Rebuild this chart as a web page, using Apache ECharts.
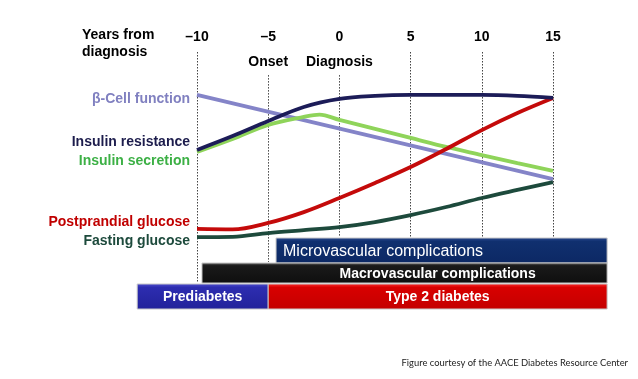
<!DOCTYPE html>
<html><head><meta charset="utf-8">
<script src="https://cdn.jsdelivr.net/npm/echarts@6/dist/echarts.min.js"></script>
<style>html,body{margin:0;padding:0;background:#fff}#c{width:638px;height:379px}</style>
</head><body><div id="c"></div>
<script>
// Years from diagnosis (x) and relative level (y, 0-100)
const tickYears = [-10, -5, 0, 5, 10, 15];
const years = [-10, -7.5, -5, -2.5, 0, 2.5, 5, 7.5, 10, 12.5, 15];
const betaCellYears = [-10, 15];
const betaCell = [81.4, 45.0];
const insulinResistance = [57.6, 63.6, 70.1, 76.2, 79.7, 81.0, 81.4, 81.4, 81.4, 81.0, 80.1];
const insulinSecretionYears = [-10, -7.5, -5, -2.5, -1.4, 0, 2.5, 5, 7.5, 10, 12.5, 15];
const insulinSecretion = [56.7, 62.3, 68.4, 71.9, 72.9, 70.6, 66.7, 62.8, 58.9, 55.4, 51.9, 48.5];
const postprandial = [23.4, 23.2, 26.0, 30.7, 36.8, 43.3, 50.2, 58.0, 66.2, 73.6, 80.1];
const fasting = [19.9, 20.0, 21.6, 22.9, 24.2, 26.4, 29.4, 32.9, 36.8, 40.3, 43.7];
const seriesNames = ['β-Cell function', 'Insulin resistance', 'Insulin secretion', 'Postprandial glucose', 'Fasting glucose'];
// Phase bars: [label, startYear, endYear]
const phaseNames = ['Microvascular complications', 'Macrovascular complications', 'Prediabetes', 'Type 2 diabetes'];
const phaseStart = [-4.45, -9.65, -14.2, -5];
const phaseEnd = [18.8, 18.8, -5, 18.8];
const eventNames = ['Onset', 'Diagnosis'];
const eventYears = [-5, 0];

const colors = ['#8484c8', '#1c1c58', '#8fd45a', '#c40a0a', '#1d4a3c'];
const labelColors = ['#8080c0', '#1c1c4c', '#3cb045', '#c00000', '#1d4a3c'];
const pair = (xs, ys) => xs.map((x, i) => [x, ys[i]]);
const datasets = [pair(betaCellYears, betaCell), pair(years, insulinResistance), pair(insulinSecretionYears, insulinSecretion), pair(years, postprandial), pair(years, fasting)];
const labelY = [100, 143, 162, 223, 242];

// dotted guide line extents (relative level units)
const guideTop = {'-10': 100, '-5': 90, '0': 90, '5': 100, '10': 100, '15': 100};
const guideBottom = {'-10': 0, '-5': 9.1, '0': 19.9, '5': 19.9, '10': 19.9, '15': 19.9};

const chart = echarts.init(document.getElementById('c'));
const F = 'Liberation Sans, Arial, sans-serif';

const series = datasets.map((d, i) => ({
  type: 'line', name: seriesNames[i], data: d, smooth: i === 0 ? false : 0.35,
  showSymbol: false, z: i === 1 ? 6 : 5,
  lineStyle: {color: colors[i], width: 3.8}, silent: true
}));
series.push({
  type: 'line', data: [], silent: true,
  markLine: {
    symbol: 'none', silent: true, label: {show: false},
    lineStyle: {type: [1.5, 1.5], color: '#444', width: 1},
    data: tickYears.map(t => [{coord: [t, guideTop[t]]}, {coord: [t, guideBottom[t]]}])
  }
});
const lanes = [[238, 263], [263, 283], [284, 309], [284, 309]];
const fills = [
  new echarts.graphic.LinearGradient(0, 0, 0, 1, [{offset: 0, color: '#2a4a92'}, {offset: 0.15, color: '#10306f'}, {offset: 1, color: '#0c2864'}]),
  new echarts.graphic.LinearGradient(0, 0, 0, 1, [{offset: 0, color: '#6a6a6a'}, {offset: 0.15, color: '#1a1a1a'}, {offset: 1, color: '#0e0e0e'}]),
  new echarts.graphic.LinearGradient(0, 0, 0, 1, [{offset: 0, color: '#5050d0'}, {offset: 0.15, color: '#2d2db0'}, {offset: 1, color: '#22229a'}]),
  new echarts.graphic.LinearGradient(0, 0, 0, 1, [{offset: 0, color: '#ff3030'}, {offset: 0.15, color: '#d80000'}, {offset: 1, color: '#c40000'}])
];
const textCfg = [
  {align: 'left', font: 'normal 16px ' + F, anchor: 'start'},
  {align: 'center', font: 'bold 14px ' + F, anchor: 'type2'},
  {align: 'center', font: 'bold 14px ' + F, anchor: 'mid'},
  {align: 'center', font: 'bold 14px ' + F, anchor: 'mid'}
];
series.push({
  type: 'custom', clip: false, silent: true, z: 10,
  data: phaseNames.map((n, i) => [phaseStart[i], phaseEnd[i], i]),
  renderItem: function (params, api) {
    const i = api.value(2);
    const x0 = api.coord([api.value(0), 0])[0];
    const x1 = api.coord([api.value(1), 0])[0];
    const [y0, y1] = lanes[i];
    let tx, ty = (y0 + y1) / 2;
    const cfg = textCfg[i];
    if (cfg.anchor === 'start') tx = x0 + 7;
    else if (cfg.anchor === 'type2') tx = (api.coord([phaseStart[3], 0])[0] + x1) / 2;
    else tx = (x0 + x1) / 2;
    return {type: 'group', children: [
      {type: 'rect', shape: {x: x0, y: y0, width: x1 - x0, height: y1 - y0},
       style: {fill: fills[i], stroke: '#c8c8c8', lineWidth: 1}},
      {type: 'text', x: tx, y: ty + 1, style: {text: phaseNames[i], fill: '#fff', font: cfg.font, align: cfg.align, verticalAlign: 'middle'}}
    ]};
  }
});

const graphics = seriesNames.map((n, i) => ({
  type: 'text', right: 638 - 190, top: labelY[i] - 8,
  style: {text: n, fill: labelColors[i], font: 'bold 14px ' + F, align: 'right'}
}));
graphics.push({type: 'text', left: 82, top: 27, style: {text: 'Years from\ndiagnosis', fill: '#000', font: 'bold 14px ' + F, lineHeight: 17}});
graphics.push({type: 'text', right: 10, top: 358, style: {text: 'Figure courtesy of the AACE Diabetes Resource Center', fill: '#222', font: 'normal 9.4px Lato, sans-serif', align: 'right'}});

chart.setOption({
  animation: false,
  grid: {left: 197, right: 85, top: 52, bottom: 96},
  xAxis: {
    type: 'value', position: 'top', min: -10, max: 15, interval: 5,
    axisLine: {show: false}, axisTick: {show: false}, splitLine: {show: false},
    axisLabel: {margin: 8, color: '#000', fontWeight: 'bold', fontSize: 14, fontFamily: F,
      formatter: v => (v < 0 ? '–' + Math.abs(v) : String(v))}
  },
  yAxis: {type: 'value', min: 0, max: 100, show: false},
  series: series.concat([{
    type: 'scatter', data: eventYears.map(y => [y, 95.5]), symbolSize: 0, silent: true,
    itemStyle: {opacity: 1},
    label: {show: true, position: 'inside', formatter: p => eventNames[p.dataIndex],
      color: '#000', fontWeight: 'bold', fontSize: 14, fontFamily: F, textBorderWidth: 0}
  }]),
  graphic: graphics
});
</script></body></html>
